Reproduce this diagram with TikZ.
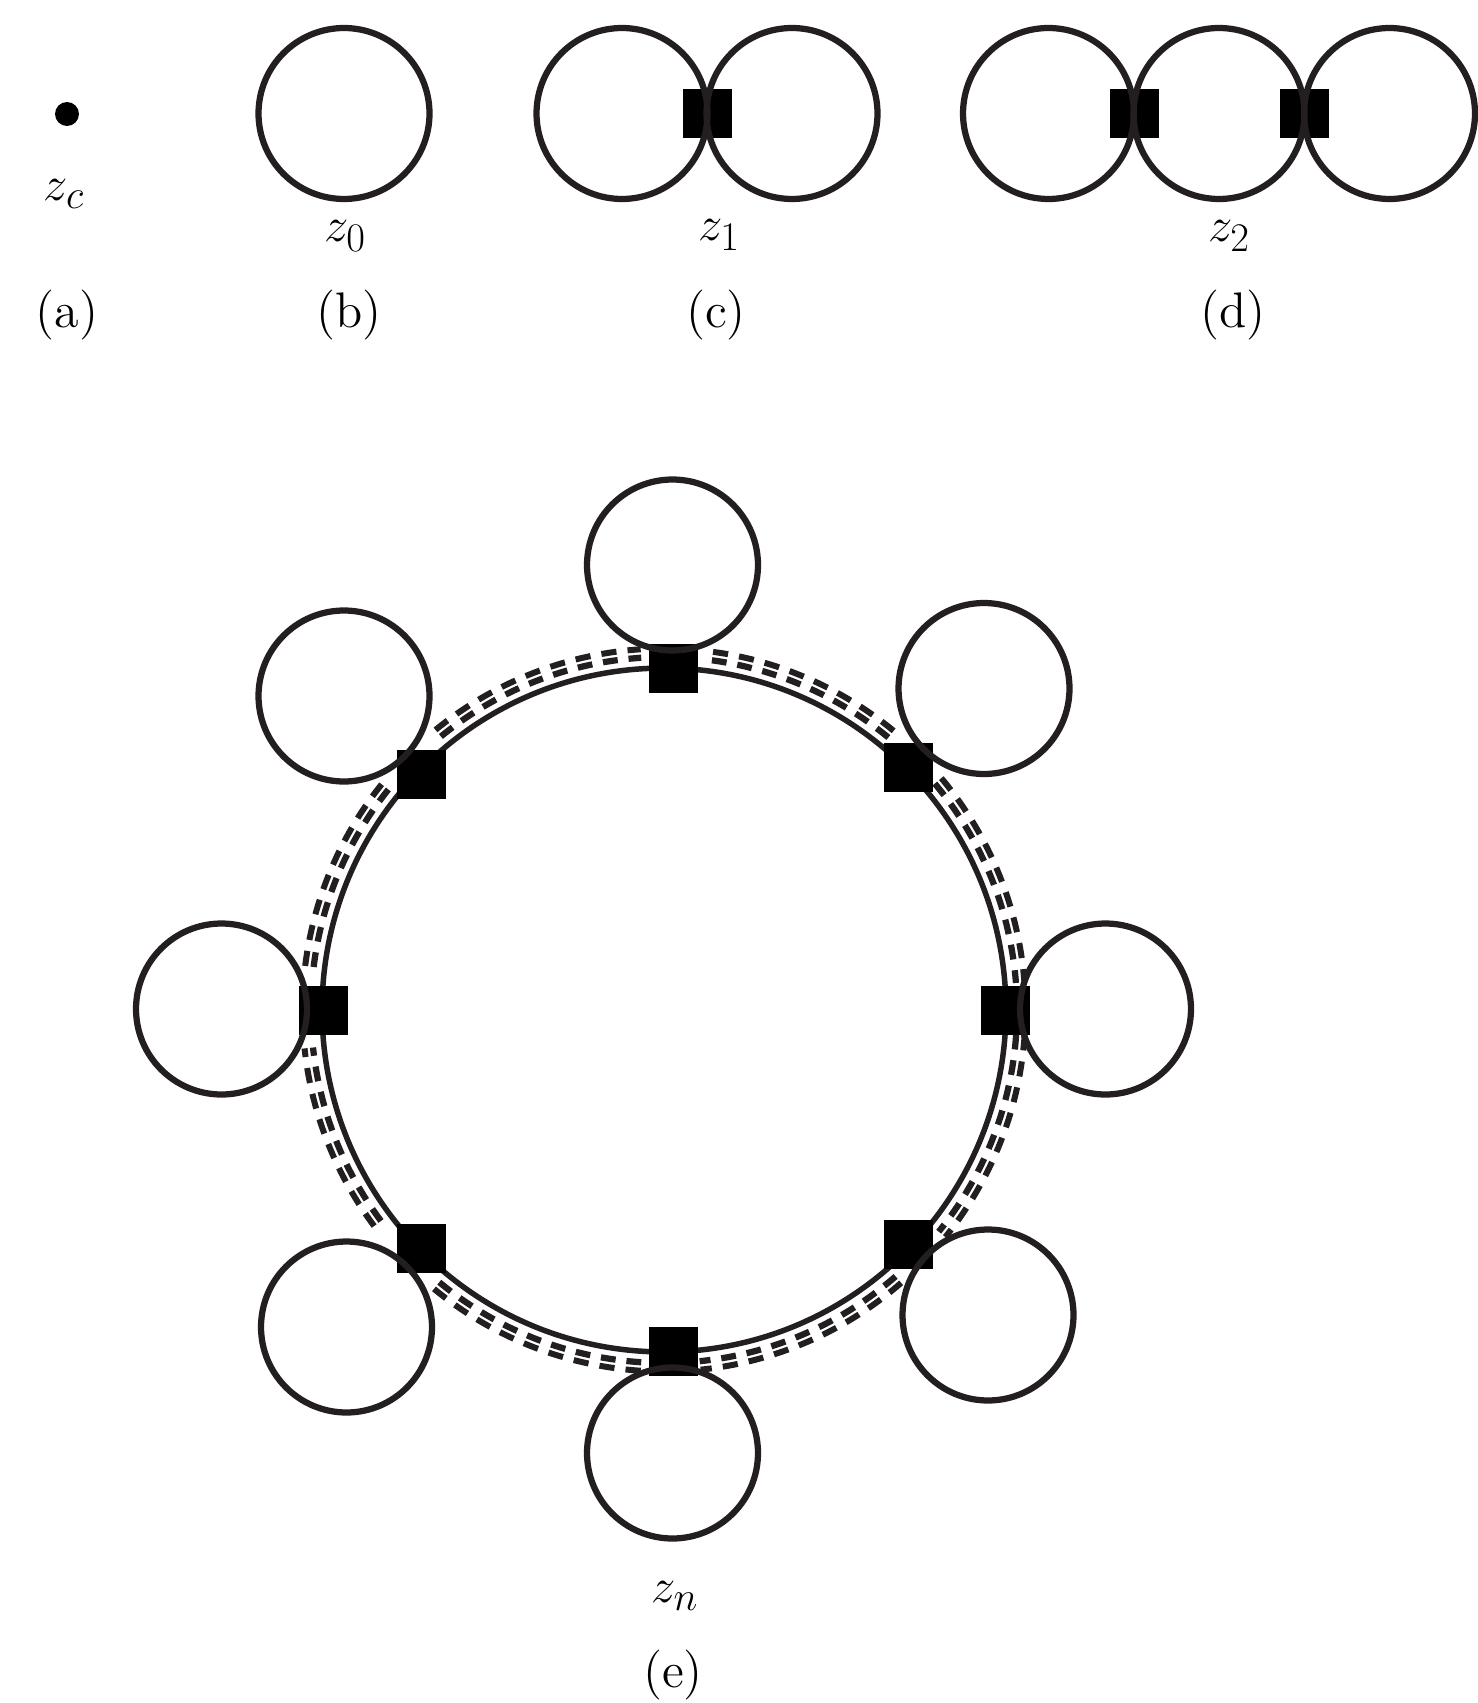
\documentclass[tikz,border=0pt]{standalone}
\usetikzlibrary{calc}
\definecolor{ink}{HTML}{231F20}
\tikzset{
  x=0.02cm,y=0.02cm,
  loopc/.style={draw=ink,circle,line width=0.125cm,minimum size=3.42cm,inner sep=0pt,outer sep=0pt},
  sq/.style={fill=black,rectangle,minimum size=0.98cm,inner sep=0pt,outer sep=0pt},
  vertex/.style={fill=black,circle,minimum size=0.48cm,inner sep=0pt,outer sep=0pt},
  lab/.style={inner sep=0pt,scale=1.115,font=\fontsize{24.88}{30}\selectfont},
  tag/.style={inner sep=0pt,scale=2.37,font=\fontsize{12}{14}\selectfont},
  dashin/.style={draw=ink,line width=0.125cm,dash pattern=on 0.297cm off 0.218cm},
  dashout/.style={draw=ink,line width=0.12cm,dash pattern=on 0.304cm off 0.223cm}
}
\begin{document}
\begin{tikzpicture}
\useasboundingbox[fill=white] (0,0) rectangle (1477,-1703);
% top row
\node[vertex] (dot) at (67,-114) {};
\node[lab] (lzc) at (64,-194) {$z_c$};
\node[tag] (la) at (67,-315) {(a)};
\node[loopc] (b1) at (344,-113.5) {};
\node[lab] (lz0) at (345,-236) {$z_0$};
\node[tag] (lb) at (349,-315) {(b)};
\node[sq] (cs) at (707.5,-113.5) {};
\node[loopc] (c1) at (622,-113.5) {};
\node[loopc] (c2) at (792,-113.5) {};
\node[lab] (lz1) at (719,-235) {$z_1$};
\node[tag] (lc) at (716,-315) {(c)};
\node[sq] (ds1) at (1134,-113.5) {};
\node[sq] (ds2) at (1304.5,-113.5) {};
\node[loopc] (d1) at (1048.5,-113.5) {};
\node[loopc] (d2) at (1219,-113.5) {};
\node[loopc] (d3) at (1389.5,-113.5) {};
\node[lab] (lz2) at (1229,-236) {$z_2$};
\node[tag] (ld) at (1233,-315) {(d)};
% ring
\coordinate (c) at (664,-1010);
\foreach \a/\b in {82.2/50.4,39.9/4.4,-4/-38.9,-49/-84.2,-93.7/-129.6,-143.3/-173.9,-187/-219.3,-230.8/-266.3}{
  \draw[dashin] ($(c)+(\a:353)$) arc[start angle=\a,end angle=\b,radius=353];
  \draw[dashout] ($(c)+(\a:361.5)$) arc[start angle=\a,end angle=\b,radius=361.5];
}
\node[draw=ink,circle,line width=0.11cm,minimum size=13.68cm,inner sep=0pt,outer sep=0pt] (ring) at (c) {};
\node[sq] (sT) at (673,-668.5) {};
\node[sq] (sNE) at (908,-767) {};
\node[sq] (sE) at (1005,-1010) {};
\node[sq] (sSE) at (908,-1244.5) {};
\node[sq] (sB) at (673,-1351) {};
\node[sq] (sSW) at (421,-1248) {};
\node[sq] (sW) at (323,-1010) {};
\node[sq] (sNW) at (421,-774) {};
\node[loopc] (lT) at (672.5,-565) {};
\node[loopc] (lNE) at (984,-688.5) {};
\node[loopc] (lE) at (1105.5,-1009) {};
\node[loopc] (lSE) at (988,-1315) {};
\node[loopc] (lB) at (672.5,-1453) {};
\node[loopc] (lSW) at (346.5,-1327) {};
\node[loopc] (lW) at (221.5,-1009) {};
\node[loopc] (lNW) at (344,-696) {};
\node[lab] (lzn) at (675,-1596) {$z_n$};
\node[tag] (le) at (673,-1675) {(e)};
\end{tikzpicture}
\end{document}
